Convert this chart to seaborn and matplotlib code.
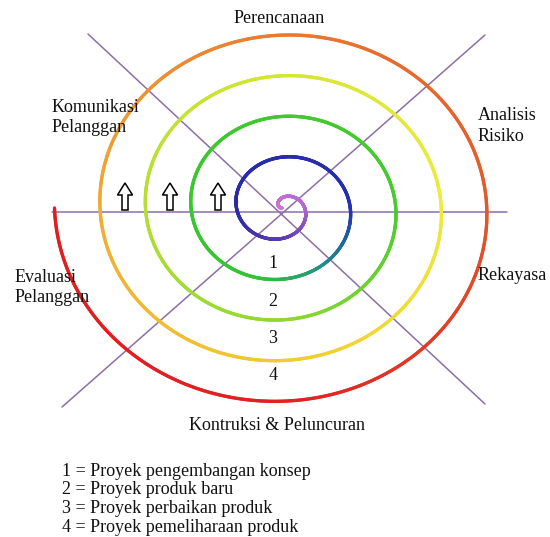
import numpy as np
import pandas as pd
import matplotlib
matplotlib.use("Agg")
import matplotlib.pyplot as plt
import seaborn as sns
from matplotlib.collections import LineCollection
from matplotlib.colors import LinearSegmentedColormap
import matplotlib.patches as mpatches

# ---------------- data ----------------
phase_labels = ["Perencanaan", "Analisis", "Risiko", "Rekayasa",
                "Kontruksi & Peluncuran", "Evaluasi", "Pelanggan",
                "Komunikasi", "Pelanggan"]
project_numbers = ["1", "2", "3", "4"]
legend_lines = ["1 = Proyek pengembangan konsep",
                "2 = Proyek produk baru",
                "3 = Proyek perbaikan produk",
                "4 = Proyek pemeliharaan produk"]
spiral_half_turns = 10          # number of half turns of the spiral
ring_spacing = 45.5             # growth of radius per full turn
color_stops = [0, 1.0, 1.5, 2.0, 3.0, 3.3, 3.6, 5.0, 5.5, 6.5, 7.0, 7.5, 8.0, 8.5, 9.0, 9.5, 10]
color_values = ["#d27ad6", "#b266cc", "#5a3cb0", "#2a2aa6", "#2430ae", "#1f8c8c",
                "#36c432", "#46cc2c", "#8fd832", "#d4e632", "#ecec3c", "#f0cc30",
                "#f0ac34", "#ea7a30", "#e25a2a", "#e02222", "#e01e1e"]
arrow_count = 3

# ---------------- layout ----------------
W, H = 550, 537
fig = plt.figure(figsize=(W / 100, H / 100), dpi=100)
sns.set_theme(style="white")
plt.rcParams["font.family"] = ["Liberation Serif", "DejaVu Serif"]
ax = fig.add_axes([0, 0, 1, 1])
ax.set_xlim(0, W)
ax.set_ylim(H, 0)
ax.axis("off")

cx, cy, sq = 282.0, 208.0, 0.894

# spokes
spoke_col = "#8c6ea6"
spokes = pd.DataFrame({
    "x": [52, 507, 88, 485, 485, 62],
    "y": [212, 212, 34, 404, 35, 407],
    "line": ["h", "h", "d1", "d1", "d2", "d2"],
})
for name, g in spokes.groupby("line"):
    sns.lineplot(data=g, x="x", y="y", ax=ax, color=spoke_col, lw=1.1,
                 sort=False, estimator=None)

# spiral
phi = np.linspace(0, spiral_half_turns * np.pi, 3000)
r = ring_spacing / (2 * np.pi) * phi
theta = 3 * np.pi - phi
xs = cx + r * np.cos(theta)
ys = cy - sq * r * np.sin(theta)
pts = np.column_stack([xs, ys]).reshape(-1, 1, 2)
segs = np.concatenate([pts[:-1], pts[1:]], axis=1)
stops = np.array(color_stops) / spiral_half_turns
cmap = LinearSegmentedColormap.from_list("spiral", list(zip(stops, color_values)))
lc = LineCollection(segs, cmap=cmap, linewidths=2.4, capstyle="round")
lc.set_array(phi[:-1] / (spiral_half_turns * np.pi))
lc.set_clim(0, 1)
ax.add_collection(lc)

# arrows
for xa in [125, 170, 218][:arrow_count]:
    ax.add_patch(mpatches.FancyArrow(xa, 210, 0, -27, width=6, head_width=15,
                                     head_length=12, length_includes_head=True,
                                     fc="white", ec="black", lw=1.1))

fs = 13
tc = "#111111"
label_pos = [(279, 23, "center"), (478, 120, "left"), (478, 141, "left"),
             (478, 280, "left"), (277, 430, "center"), (15, 282, "left"),
             (15, 302, "left"), (52, 112, "left"), (52, 132, "left")]
for lab, (x, y, ha) in zip(phase_labels, label_pos):
    ax.text(x, y, lab, ha=ha, va="baseline", fontsize=fs, color=tc)

for num, y in zip(project_numbers, [268, 306, 343, 380]):
    ax.text(273, y, num, ha="center", va="baseline", fontsize=fs, color=tc)

for line, y in zip(legend_lines, [476, 494.5, 513, 531.5]):
    ax.text(62, y, line, ha="left", va="baseline", fontsize=fs, color=tc)

fig.savefig("out.png", dpi=100, facecolor="white")
